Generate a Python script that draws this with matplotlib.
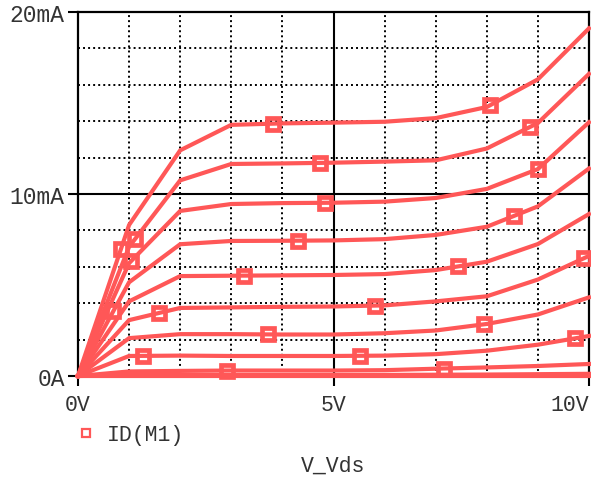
import numpy as np
import matplotlib
matplotlib.use("Agg")
import matplotlib.pyplot as plt
from matplotlib.lines import Line2D

# Drain sweep (V) and drain current traces (mA), one per gate step
vds = [0, 1, 2, 3, 4, 5, 6, 7, 8, 9, 10]
id_c1 = [0, 8.3, 12.4, 13.8, 13.88, 13.92, 13.97, 14.17, 14.78, 16.3, 19.1]
id_c2 = [0, 7.1, 10.75, 11.65, 11.68, 11.72, 11.78, 11.85, 12.5, 13.9, 16.6]
id_c3 = [0, 6.2, 9.07, 9.45, 9.5, 9.52, 9.58, 9.78, 10.28, 11.37, 13.94]
id_c4 = [0, 5.15, 7.24, 7.42, 7.43, 7.45, 7.52, 7.75, 8.2, 9.32, 11.4]
id_c5 = [0, 4.1, 5.49, 5.51, 5.53, 5.55, 5.6, 5.82, 6.28, 7.25, 8.9]
id_c6 = [0, 3.07, 3.74, 3.77, 3.8, 3.82, 3.88, 4.1, 4.38, 5.3, 6.6]
id_c7 = [0, 2.08, 2.3, 2.3, 2.28, 2.28, 2.35, 2.5, 2.86, 3.38, 4.32]
id_c8 = [0, 1.1, 1.12, 1.1, 1.1, 1.1, 1.12, 1.2, 1.39, 1.72, 2.2]
id_c9 = [0, 0.25, 0.28, 0.3, 0.3, 0.3, 0.32, 0.4, 0.47, 0.55, 0.66]
id_c10 = [0, 0.05, 0.05, 0.05, 0.05, 0.05, 0.06, 0.07, 0.08, 0.1, 0.12]
id_c11 = [0, 0, 0, 0, 0, 0, 0, 0, 0, 0, 0]

# where the trace symbols sit along each curve (V)
mark_c1 = [0.84, 3.82, 8.06]
mark_c2 = [1.12, 4.73, 8.84]
mark_c3 = [1.04, 4.84, 9.0]
mark_c4 = [0.69, 4.31, 8.53]
mark_c5 = [3.24, 7.43]
mark_c6 = [1.59, 5.82, 9.9]
mark_c7 = [3.71, 7.94]
mark_c8 = [1.27, 5.51, 9.73]
mark_c9 = [2.92, 7.16]
mark_c10 = []
mark_c11 = []

curves = [id_c1, id_c2, id_c3, id_c4, id_c5, id_c6, id_c7, id_c8, id_c9, id_c10, id_c11]
marks = [mark_c1, mark_c2, mark_c3, mark_c4, mark_c5, mark_c6, mark_c7, mark_c8, mark_c9, mark_c10, mark_c11]

x_ticks = [0, 5, 10]
x_labels = ["0V", "5V", "10V"]
y_ticks = [0, 10, 20]
y_labels = ["0A", "10mA", "20mA"]

RED = "#ff5757"
FONT = "Liberation Mono"

W, H = 591, 481
fig = plt.figure(figsize=(W / 100, H / 100), dpi=100)
ax = fig.add_axes([78 / W, 1 - 377 / H, 511 / W, 364 / H])

# grid: dotted minor lines, solid lines at 5V and 10mA
for v in [1, 2, 3, 4, 6, 7, 8, 9]:
    ax.axvline(v, color="black", lw=1.4, ls=(0, (1, 1.6)), zorder=1)
for i in [2, 4, 6, 8, 12, 14, 16, 18]:
    ax.axhline(i, color="black", lw=1.4, ls=(0, (1, 1.6)), zorder=1)
ax.axvline(5, color="black", lw=1.5, zorder=1)
ax.axhline(10, color="black", lw=1.5, zorder=1)

for cur, mk in zip(curves, marks):
    ax.plot(vds, cur, color=RED, lw=3, solid_joinstyle="miter", zorder=3, clip_on=False)
    if mk:
        ax.plot(mk, np.interp(mk, vds, cur), ls="none", marker="s", ms=8,
                mfc="none", mec=RED, mew=3.4, zorder=4, clip_on=False)

ax.set_xlim(0, 10)
ax.set_ylim(0, 20)
ax.set_xticks(x_ticks)
ax.set_xticklabels(x_labels, family=FONT, fontsize=15.5)
ax.set_yticks(y_ticks)
ax.set_yticklabels(y_labels, family=FONT, fontsize=16.5)
ax.xaxis.get_majorticklabels()[-1].set_ha("right")
ax.tick_params(axis="x", direction="out", length=7, width=1.5, pad=6, colors="black", labelcolor="#333333")
ax.tick_params(axis="y", direction="out", length=7.5, width=1.5, pad=2, colors="black", labelcolor="#333333")
for s in ax.spines.values():
    s.set_linewidth(1.6)
    s.set_color("black")

ax.set_xlabel("V_Vds", family=FONT, fontsize=15.5, color="#333333")
ax.xaxis.label.set_va("center")
ax.xaxis.set_label_coords(0.5, (377 - 466) / 364)

handle = Line2D([], [], ls="none", marker="s", ms=6, mfc="white", mec=RED, mew=1.6)
ax.legend([handle], ["ID(M1)"], loc="center left",
          bbox_to_anchor=(75 / W, 1 - 436 / H), bbox_transform=fig.transFigure,
          frameon=False, handlelength=1.0, handletextpad=0.5, borderpad=0,
          borderaxespad=0, prop={"family": FONT, "size": 15.5}, labelcolor="#333333")

fig.savefig("out.png", dpi=100)
